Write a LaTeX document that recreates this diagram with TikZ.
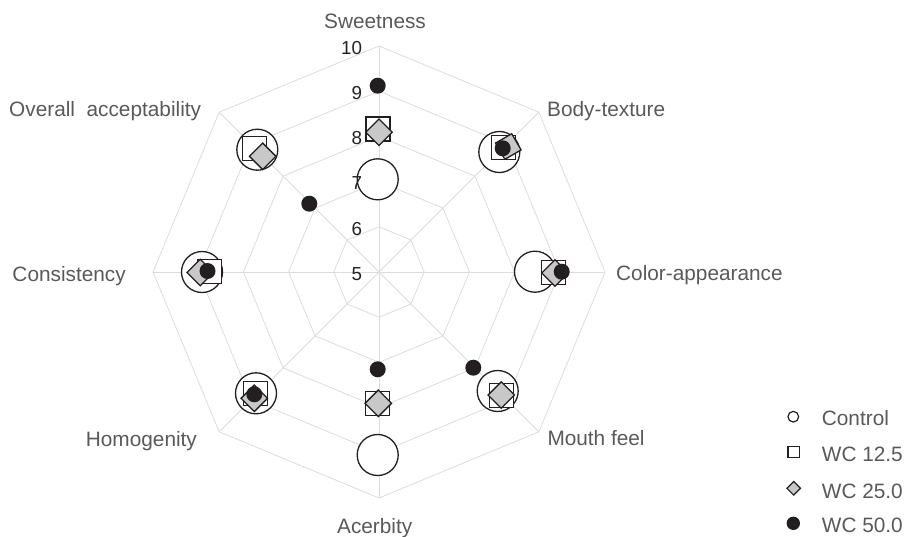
\documentclass[tikz,border=0pt]{standalone}
\usepackage{fontspec}
\setmainfont{Liberation Sans}
\usetikzlibrary{shapes.geometric}
\definecolor{gridc}{HTML}{DCDCDC}
\definecolor{labc}{HTML}{595959}
\definecolor{numc}{HTML}{222222}
\definecolor{ink}{HTML}{231F20}
\definecolor{dmfill}{HTML}{C8C8C8}
\tikzset{
  gridline/.style={draw=gridc, line width=0.8pt},
  axislab/.style={text=labc, font=\fontsize{20.8}{24}\selectfont, inner sep=0pt},
  numlab/.style={text=numc, font=\fontsize{18.8}{22}\selectfont, inner sep=0pt, anchor=base east},
  ctrlmk/.style={circle, draw=ink, fill=white, line width=1.3pt, minimum size=41pt, inner sep=0pt},
  sqmk/.style={rectangle, draw=ink, fill=white, line width=1.3pt, minimum size=24pt, inner sep=0pt},
  dmmk/.style={diamond, draw=ink, fill=dmfill, line width=1.3pt, minimum width=27pt, minimum height=27pt, inner sep=0pt},
  dotmk/.style={circle, fill=ink, minimum size=16pt, inner sep=0pt},
}
\begin{document}
\begin{tikzpicture}[x=1pt,y=-1pt]
\useasboundingbox (0,0) rectangle (907,536);
% grid
\begin{scope}[shift={(379,272)}]
  \foreach \k in {1,...,5}{
    \pgfmathsetmacro{\r}{45.2*\k}
    \draw[gridline] (0:\r) -- (45:\r) -- (90:\r) -- (135:\r) -- (180:\r) -- (225:\r) -- (270:\r) -- (315:\r) -- cycle;
  }
  \foreach \a in {0,45,...,315}{
    \draw[gridline] (0,0) -- (\a:226);
  }
\end{scope}
% axis labels
\node[axislab, anchor=base] (sw) at (375,28.5) {Sweetness};
\node[axislab, anchor=base west] (bt) at (547,116) {Body-texture};
\node[axislab, anchor=base west] (ca) at (616,280.7) {Color-appearance};
\node[axislab, anchor=base west] (mf) at (547.3,445.5) {Mouth feel};
\node[axislab, anchor=base] (ac) at (374.7,533.3) {Acerbity};
\node[axislab, anchor=base west] (ho) at (85.7,446.7) {Homogenity};
\node[axislab, anchor=base west] (co) at (12.3,281) {Consistency};
\node[axislab, anchor=base west] (oa) at (9,116) {Overall\ \ acceptability};
% control circles
\node[ctrlmk] (c1) at (377.7,179.3) {};
\node[ctrlmk] (c2) at (499.3,152) {};
\node[ctrlmk] (c3) at (535,271.7) {};
\node[ctrlmk] (c4) at (497.7,391) {};
\node[ctrlmk] (c5) at (377.7,455) {};
\node[ctrlmk] (c6) at (256,393.3) {};
\node[ctrlmk] (c7) at (202,272) {};
\node[ctrlmk] (c8) at (257.3,149.7) {};
% WC 12.5 squares
\node[sqmk] (s1) at (378,129) {};
\node[sqmk] (s2) at (503.3,147.5) {};
\node[sqmk] (s3) at (553.2,272.2) {};
\node[sqmk] (s4) at (501.5,395.5) {};
\node[sqmk] (s5) at (377.8,403.3) {};
\node[sqmk] (s6) at (255.8,393.8) {};
\node[sqmk] (s7) at (209.5,271.7) {};
\node[sqmk] (s8) at (254.5,148.8) {};
% WC 25.0 diamonds
\node[dmmk] (d1) at (379,132.3) {};
\node[dmmk, rotate=-15] (d2) at (508.3,146.5) {};
\node[dmmk] (d3) at (555,273) {};
\node[dmmk] (d4) at (501.3,395) {};
\node[dmmk] (d5) at (378.3,403.3) {};
\node[dmmk] (d6) at (254.3,398.3) {};
\node[dmmk] (d7) at (200.2,272.5) {};
\node[dmmk] (d8) at (262.7,156.3) {};
% WC 50.0 dots
\node[dotmk] (p1) at (377.7,85.7) {};
\node[dotmk] (p2) at (502.7,148.3) {};
\node[dotmk] (p3) at (561.7,271.7) {};
\node[dotmk] (p4) at (473.3,367.7) {};
\node[dotmk] (p5) at (377.7,369.3) {};
\node[dotmk] (p6) at (254.3,394.3) {};
\node[dotmk] (p7) at (207.5,271) {};
\node[dotmk] (p8) at (309.3,203.7) {};
% level numbers
\node[numlab] (n5) at (362.3,280.5) {5};
\node[numlab] (n6) at (362.3,235.2) {6};
\node[numlab] (n7) at (362.3,189.9) {7};
\node[numlab] (n8) at (362.3,144.6) {8};
\node[numlab] (n9) at (362.3,99.3) {9};
\node[numlab] (n10) at (362.3,54) {10};
% legend
\node[circle, draw=ink, fill=white, line width=1.2pt, minimum size=10.7pt, inner sep=0pt] (lc) at (793.3,416.7) {};
\node[rectangle, draw=ink, fill=white, line width=1.2pt, minimum size=11.3pt, inner sep=0pt] (ls) at (793.7,452) {};
\node[diamond, draw=ink, fill=dmfill, line width=1.2pt, minimum width=14pt, minimum height=14pt, inner sep=0pt] (ld) at (793.7,488.3) {};
\node[circle, fill=ink, minimum size=13.4pt, inner sep=0pt] (lp) at (793.3,523.3) {};
\node[axislab, anchor=base west] (tc) at (821.7,425.7) {Control};
\node[axislab, anchor=base west] (ts) at (821.7,461.7) {WC 12.5};
\node[axislab, anchor=base west] (td) at (821.7,498.3) {WC 25.0};
\node[axislab, anchor=base west, text depth=0pt] (tp) at (821.7,532.5) {WC 50.0};
\end{tikzpicture}
\end{document}
